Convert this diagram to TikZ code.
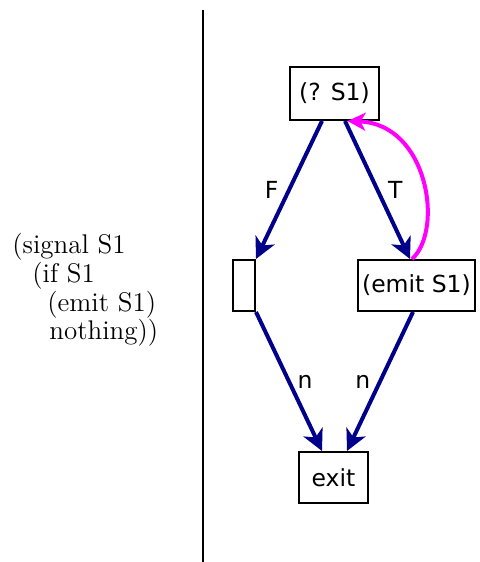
\documentclass[tikz,border=0pt]{standalone}
\usepackage{fontspec}
\newfontfamily\boxfont{DejaVu Sans}
\usepackage{xcolor}
\usepackage{tikz}
\usetikzlibrary{arrows.meta, positioning}
\definecolor{flowblue}{RGB}{0,0,139}
\definecolor{loopmag}{RGB}{255,0,255}
\tikzstyle{box} = [draw=black, line width=1pt, font=\boxfont\fontsize{11.75}{14}\selectfont, minimum height=25.5pt, inner sep=2pt]
\tikzstyle{src} = [anchor=base west, inner sep=0pt, font=\fontsize{13.5}{14}\selectfont]
\tikzstyle{lbl} = [font=\boxfont\fontsize{11.75}{14}\selectfont]
\tikzstyle{flow} = [line width=2pt, draw=flowblue, -{Stealth[length=10.5pt, width=10.5pt, inset=3pt]}]
\tikzstyle{emitback} = [line width=2pt, draw=loopmag, -{Stealth[length=9pt, width=9pt, inset=2.5pt]}]

\begin{document}
\begin{tikzpicture}[x=0.5pt, y=-0.5pt]
  \useasboundingbox (0,0) rectangle (480,562);

  % source program
  \node[src] (l1) at (12,253) {(signal S1};
  \node[src] (l2) at (12,282) {\hspace*{10pt}(if S1};
  \node[src] (l3) at (12,311) {\hspace*{17.5pt}(emit S1)};
  \node[src] (l4) at (12,339) {\hspace*{18.5pt}nothing))};

  \draw[line width=1pt] (203,10) -- (203,562);

  % circuit nodes
  \node[box, minimum width=44.5pt, minimum height=26.5pt] (test) at (334.5,93.5) {(? S1)};
  \node[box, minimum width=11pt] (nop) at (244,285.5) {};
  \node[box, minimum width=58.5pt] (emit) at (416.5,285.5) {(emit S1)};
  \node[box, minimum width=34.5pt] (exit) at (333.5,477.5) {exit};

  \draw[flow] ([xshift=-6.25pt]test.south) -- (nop.north east) node[lbl, midway, left=1pt] {F};
  \draw[flow] ([xshift=5.25pt]test.south) -- ([xshift=-3.25pt]emit.north) node[lbl, midway, right=1pt] {T};
  \draw[flow] (nop.south east) -- ([xshift=-5.75pt]exit.north) node[lbl, midway, right=0pt] {n};
  \draw[flow] ([xshift=-1.75pt]emit.south) -- ([xshift=6.75pt]exit.north) node[lbl, midway, left=0.5pt] {n};

  % instantaneous loop back into the test
  \draw[emitback] ([xshift=-2.25pt]emit.north) .. controls (444,230) and (428,124) .. ([xshift=6.5pt]test.south);
\end{tikzpicture}
\end{document}
